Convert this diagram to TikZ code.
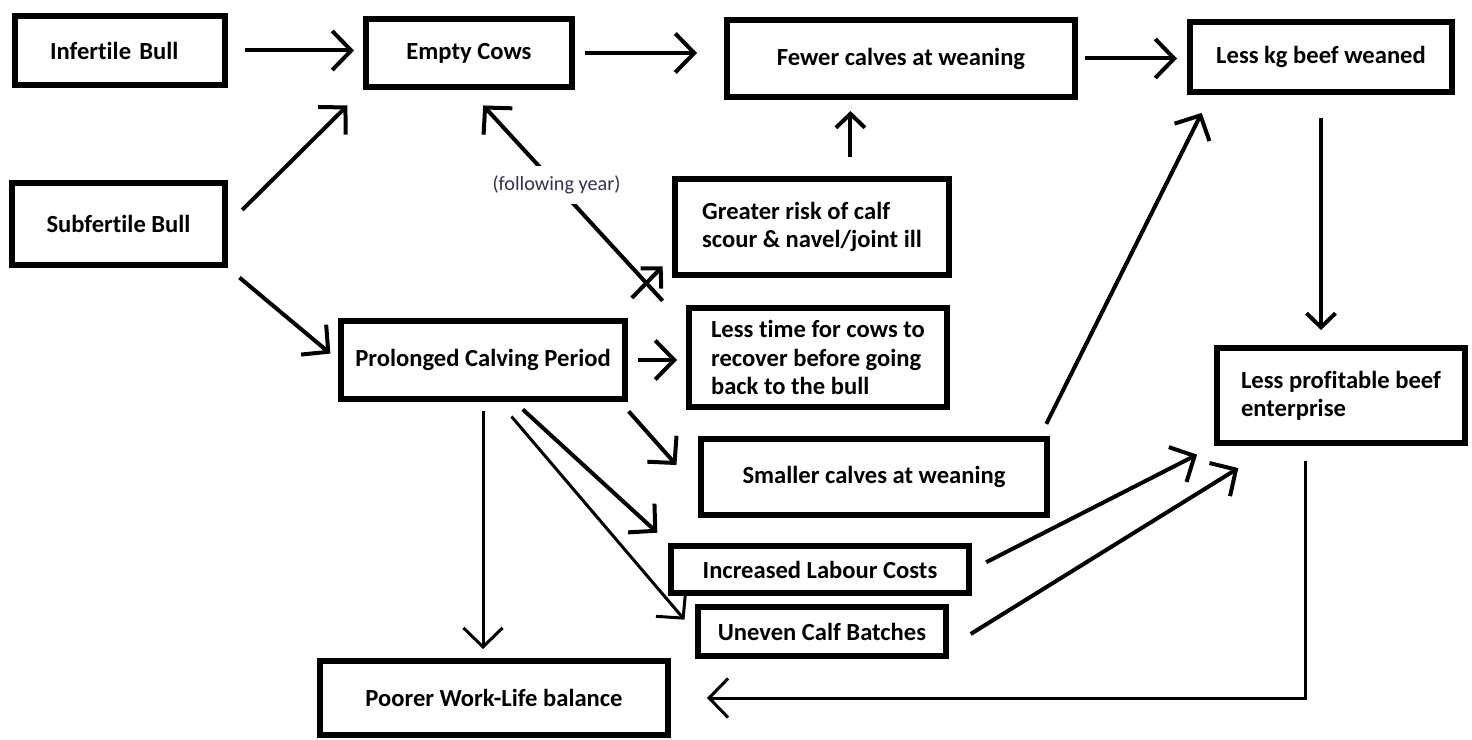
\documentclass[tikz,border=0pt]{standalone}
\usepackage{fontspec}
\setmainfont{Carlito}[Ligatures=NoCommon]
\usetikzlibrary{arrows.meta}
\definecolor{notegray}{RGB}{50,50,78}

\begin{document}
\begin{tikzpicture}[x=0.02cm,y=-0.02cm,
 >={Straight Barb[length=0.38cm,width=0.78cm]},
 box/.style={draw,line width=0.12cm,inner sep=0pt,align=center,
  font=\fontsize{14pt}{16pt}\selectfont\bfseries},
 link/.style={->,line width=0.08cm},
 thinlink/.style={->,line width=0.06cm},
 small/.style={>={Straight Barb[length=0.28cm,width=0.58cm]}}]
\useasboundingbox (0,0) rectangle (1472,740);
% top row
\node[box,minimum height=1.38cm,text width=2.8cm,inner xsep=0.7cm,align=left] (infertile) at (120,50.5) {Infertile Bull};
\node[box,minimum width=4.12cm,minimum height=1.36cm] (empty) at (469,53) {Empty Cows};
\node[box,minimum width=6.96cm,minimum height=1.54cm] (fewer) at (901,58.5) {Fewer calves at weaning};
\node[box,minimum width=5.24cm,minimum height=1.4cm] (lesskg) at (1321,57) {Less kg beef weaned};
% middle
\node[box,minimum width=4.26cm,minimum height=1.64cm] (subfertile) at (118.5,224) {Subfertile Bull};
\node[box,minimum width=5.48cm,minimum height=1.92cm,align=left] (scour) at (812,227) {Greater risk of calf\\scour \& navel/joint ill};
\node[box,minimum width=5.68cm,minimum height=1.56cm] (calving) at (483,360) {Prolonged Calving Period};
\node[box,minimum width=5.16cm,minimum height=2cm,align=left] (recover) at (818,357.5) {Less time for cows to\\recover before going\\back to the bull};
\node[box,minimum width=4.96cm,minimum height=1.9cm,align=left] (profit) at (1341,395.5) {Less profitable beef\\enterprise};
% lower
\node[box,minimum width=6.92cm,minimum height=1.54cm] (smaller) at (874,477) {Smaller calves at weaning};
\node[box,minimum width=5.96cm,minimum height=0.96cm] (labour) at (820,569.5) {Increased Labour Costs};
\node[box,minimum width=4.98cm,minimum height=0.98cm] (batches) at (822,631.5) {Uneven Calf Batches};
\node[box,minimum width=6.96cm,minimum height=1.48cm] (worklife) at (494,698) {Poorer Work-Life balance};
% connectors
\draw[link,shorten <=0.34cm,shorten >=0.18cm] (infertile.east) -- (infertile.east -| empty.west);
\draw[link,shorten <=0.2cm,shorten >=0.54cm] (empty.east) -- (empty.east -| fewer.west);
\draw[link,shorten <=0.14cm,shorten >=0.2cm] (fewer.east) -- (fewer.east -| lesskg.west);
\draw[link,shorten <=0.4cm,shorten >=0.44cm] (subfertile.east) -- (empty.south west);
\draw[link,shorten <=0.3cm,shorten >=0.2cm] (subfertile.south east) -- (calving.west);
\draw[link,shorten <=0.1cm,shorten >=0.42cm] ([xshift=-0.4cm]recover.north west) -- (empty.south)
  node[pos=0.556,fill=white,inner xsep=2pt,inner ysep=0.2cm,text=notegray,
  font=\fontsize{11.5pt}{14pt}\selectfont] {(following year)};
\draw[link,small,shorten <=0.56cm,shorten >=0.27cm] (calving.18) -- (scour.192);
\draw[link,shorten <=0.2cm,shorten >=0.18cm] (calving.east) -- (calving.east -| recover.west);
\draw[link,small,shorten <=0.38cm,shorten >=0.22cm] (scour.53) -- (scour.53 |- fewer.south);
\draw[link,shorten <=0.26cm,shorten >=0.4cm] (smaller.14) -- (lesskg.-161);
\draw[link,small,shorten <=0.46cm,shorten >=0.3cm] (lesskg.south) -- (lesskg.south |- profit.north);
\draw[link,shorten <=0.25cm,shorten >=0.65cm] (calving.-17) -- (smaller.184);
\draw[link,shorten <=0.22cm,shorten >=0.29cm] (calving.-53) -- (labour.north west);
\draw[thinlink,shorten <=0.38cm,shorten >=0.31cm] (calving.-69) -- (batches.west);
\draw[thinlink,shorten <=0.18cm,shorten >=0.18cm] (calving.south) -- (calving.south |- worklife.north);
\draw[link,shorten <=0.32cm,shorten >=0.38cm] (labour.east) -- (profit.south west);
\draw[link,shorten <=0.5cm,shorten >=0.84cm] (batches.-7) -- (profit.217);
\draw[thinlink,shorten <=0.3cm,shorten >=0.72cm] (profit.235) |- (worklife.east);
\end{tikzpicture}
\end{document}
